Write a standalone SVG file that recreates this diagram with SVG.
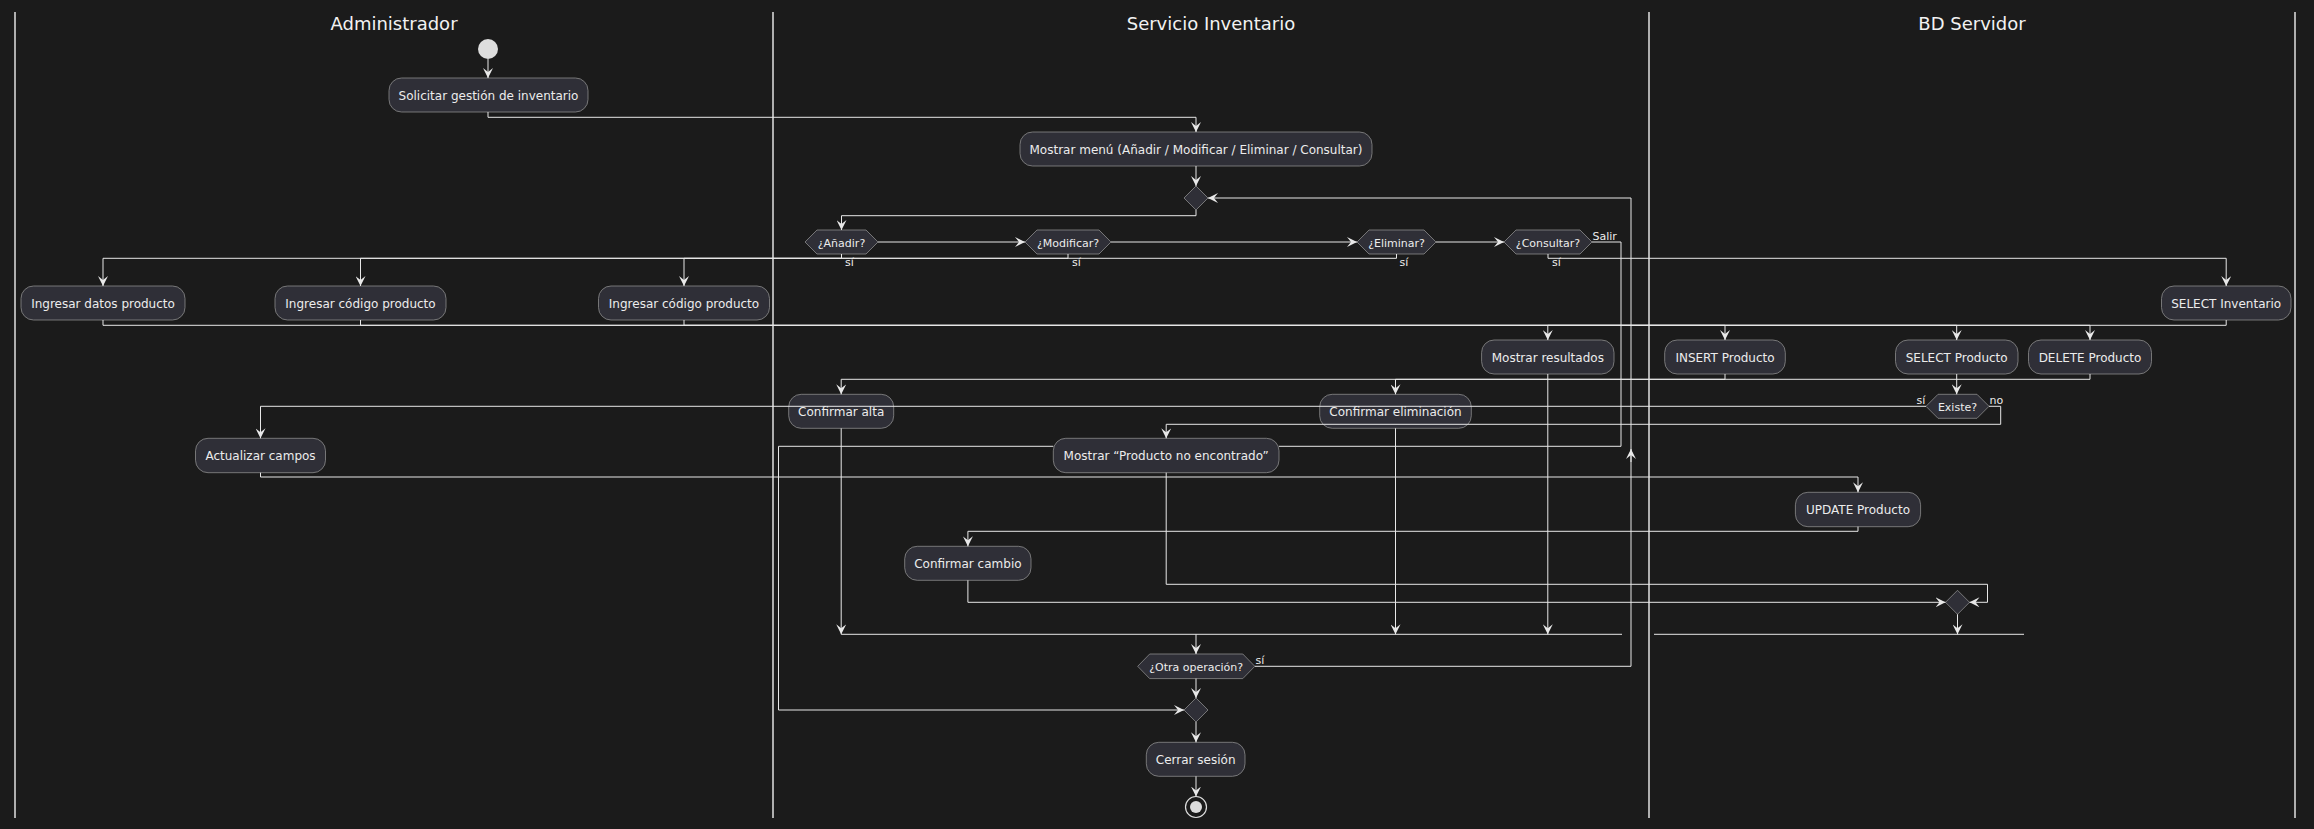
<svg xmlns="http://www.w3.org/2000/svg" width="2314" height="829" viewBox="0 0 2314 829">
<defs>
<style>
.bg{fill:#1b1b1b}
.lane{stroke:#e2e2e2;stroke-width:1.5}
.title{font-family:"DejaVu Sans",sans-serif;font-size:18px;fill:#f2f2f2;text-anchor:middle}
.box{fill:#2f2f37;stroke:#8c8c8c;stroke-width:0.8}
.t{font-family:"DejaVu Sans",sans-serif;font-size:12px;fill:#ececec;text-anchor:middle}
.ht{font-family:"DejaVu Sans",sans-serif;font-size:11px;fill:#ececec;text-anchor:middle}
.el{font-family:"DejaVu Sans",sans-serif;font-size:11px;fill:#ececec}
.conn path{fill:none;stroke:#e8e8e8;stroke-width:1}
.conn path.a{marker-end:url(#ah)}
</style>
<marker id="ah" viewBox="0 0 10 10" refX="10" refY="5" markerWidth="10" markerHeight="10" markerUnits="userSpaceOnUse" orient="auto">
<path d="M0,0 L10,5 L0,10 L4,5 Z" fill="#e8e8e8"/>
</marker>
</defs>
<rect class="bg" x="0" y="0" width="2314" height="829"/>

<g id="lanes">
<line class="lane" x1="15" y1="12" x2="15" y2="818"/>
<line class="lane" x1="773" y1="12" x2="773" y2="818"/>
<line class="lane" x1="1649" y1="12" x2="1649" y2="818"/>
<line class="lane" x1="2295" y1="12" x2="2295" y2="818"/>
<text class="title" x="394" y="29.5">Administrador</text>
<text class="title" x="1211" y="29.5">Servicio Inventario</text>
<text class="title" x="1972" y="29.5">BD Servidor</text>
</g>

<g id="start"><circle cx="488" cy="49" r="10" fill="#dddddd"/></g>
<g id="n_solicitar"><rect class="box" x="389" y="78" width="199" height="34" rx="12.5"/><text class="t" x="488.5" y="99.5">Solicitar gestión de inventario</text></g>
<g id="n_menu"><rect class="box" x="1020" y="132" width="352" height="34" rx="12.5"/><text class="t" x="1196" y="153.5">Mostrar menú (Añadir / Modificar / Eliminar / Consultar)</text></g>
<g id="m_loop"><polygon class="box" points="1196,186 1208,198 1196,210 1184,198"/></g>
<g id="d_anadir"><polygon class="box" points="805,242 817,230 866,230 878,242 866,254 817,254"/><text class="ht" x="841.5" y="246.5">¿Añadir?</text></g>
<g id="d_modificar"><polygon class="box" points="1025,242 1037,230 1099,230 1111,242 1099,254 1037,254"/><text class="ht" x="1068" y="246.5">¿Modificar?</text></g>
<g id="d_eliminar"><polygon class="box" points="1357,242 1369,230 1424,230 1436,242 1424,254 1369,254"/><text class="ht" x="1396.5" y="246.5">¿Eliminar?</text></g>
<g id="d_consultar"><polygon class="box" points="1504,242 1516,230 1580,230 1592,242 1580,254 1516,254"/><text class="ht" x="1548" y="246.5">¿Consultar?</text></g>

<g id="n_ing_datos"><rect class="box" x="21" y="286" width="164" height="34" rx="12.5"/><text class="t" x="103" y="307.5">Ingresar datos producto</text></g>
<g id="n_ing_cod1"><rect class="box" x="275" y="286" width="171" height="34" rx="12.5"/><text class="t" x="360.5" y="307.5">Ingresar código producto</text></g>
<g id="n_ing_cod2"><rect class="box" x="598.5" y="286" width="171" height="34" rx="12.5"/><text class="t" x="684" y="307.5">Ingresar código producto</text></g>
<g id="n_sel_inv"><rect class="box" x="2161.5" y="286" width="129.5" height="34" rx="12.5"/><text class="t" x="2226.2" y="307.5">SELECT Inventario</text></g>

<g id="n_mostrar_res"><rect class="box" x="1481.6" y="340" width="132.4" height="34" rx="12.5"/><text class="t" x="1547.8" y="361.5">Mostrar resultados</text></g>
<g id="n_insert"><rect class="box" x="1664.7" y="340" width="120.6" height="34" rx="12.5"/><text class="t" x="1725" y="361.5">INSERT Producto</text></g>
<g id="n_sel_prod"><rect class="box" x="1895.5" y="340" width="122.5" height="34" rx="12.5"/><text class="t" x="1956.7" y="361.5">SELECT Producto</text></g>
<g id="n_delete"><rect class="box" x="2028.5" y="340" width="123" height="34" rx="12.5"/><text class="t" x="2090" y="361.5">DELETE Producto</text></g>

<g id="n_conf_alta"><rect class="box" x="788.7" y="394.3" width="105" height="34" rx="12.5"/><text class="t" x="841.2" y="415.8">Confirmar alta</text></g>
<g id="n_conf_elim"><rect class="box" x="1319.7" y="394.3" width="151.6" height="34" rx="12.5"/><text class="t" x="1395.5" y="415.8">Confirmar eliminación</text></g>
<g id="d_existe"><polygon class="box" points="1926,406.3 1938,394.3 1977,394.3 1989,406.3 1977,418.3 1938,418.3"/><text class="ht" x="1957.5" y="410.8">Existe?</text></g>

<g id="n_no_encontrado"><rect class="box" x="1053.3" y="438.3" width="225.7" height="34.4" rx="12.5"/><text class="t" x="1166.2" y="460">Mostrar “Producto no encontrado”</text></g>
<g id="n_actualizar"><rect class="box" x="195.5" y="438.3" width="130" height="34.4" rx="12.5"/><text class="t" x="260.5" y="460">Actualizar campos</text></g>
<g id="n_update"><rect class="box" x="1795.4" y="492.3" width="125.2" height="34.4" rx="12.5"/><text class="t" x="1858" y="514">UPDATE Producto</text></g>
<g id="n_conf_cambio"><rect class="box" x="904.7" y="546.3" width="126.3" height="34" rx="12.5"/><text class="t" x="967.9" y="567.8">Confirmar cambio</text></g>
<g id="m_existe"><polygon class="box" points="1957.5,590.3 1969.5,602.3 1957.5,614.3 1945.5,602.3"/></g>

<g id="d_otra"><polygon class="box" points="1137.7,666.3 1149.7,654 1242.8,654 1254.8,666.3 1242.8,678.6 1149.7,678.6"/><text class="ht" x="1196.2" y="670.8">¿Otra operación?</text></g>
<g id="m_fin"><polygon class="box" points="1196,698 1208,710 1196,722 1184,710"/></g>
<g id="n_cerrar"><rect class="box" x="1146.3" y="742.3" width="98.7" height="34" rx="12.5"/><text class="t" x="1195.7" y="763.8">Cerrar sesión</text></g>
<g id="end"><circle cx="1196" cy="807" r="10.5" fill="#1b1b1b" stroke="#dddddd" stroke-width="1.2"/><circle cx="1196" cy="807" r="6" fill="#dddddd"/></g>

<g id="connectors" class="conn">
<path class="a" d="M488,59 V78"/>
<path class="a" d="M488,112 V117.3 H1196 V132"/>
<path class="a" d="M1196,166 V186"/>
<path class="a" d="M1196,210 V215.7 H841.5 V230"/>
<path class="a" d="M878,242 H1025"/>
<path class="a" d="M1111,242 H1357"/>
<path class="a" d="M1436,242 H1504"/>
<path d="M1592,242 H1621 V446.3 H1279"/>
<path class="a" d="M1053.3,446.3 H778.5 V710 H1184"/>
<path class="a" d="M841.5,254 V258.3 H103 V286"/>
<path class="a" d="M1068,254 V258.3 H360.5 V286"/>
<path class="a" d="M1396.5,254 V258.3 H684 V286"/>
<path class="a" d="M1548,254 V258.3 H2226.2 V286"/>
<path class="a" d="M103,320 V325.3 H1725 V340"/>
<path class="a" d="M360.5,320 V325.3 H1956.7 V340"/>
<path class="a" d="M684,320 V325.3 H2090 V340"/>
<path class="a" d="M2226.2,320 V325.3 H1547.8 V340"/>
<path class="a" d="M1725,374 V379.3 H841.2 V394.3"/>
<path class="a" d="M2090,374 V379.3 H1395.5 V394.3"/>
<path class="a" d="M1956.7,374 V394.3"/>
<path class="a" d="M1926,406.3 H260.5 V438.3"/>
<path class="a" d="M1989,406.3 H2000.7 V424.3 H1166.2 V438.3"/>
<path class="a" d="M260.5,472.7 V477 H1858 V492.3"/>
<path class="a" d="M1858,526.7 V531.3 H967.9 V546.3"/>
<path class="a" d="M967.9,580.3 V602.3 H1945.5"/>
<path class="a" d="M1166.2,472.7 V584.3 H1987.5 V602.3 H1969.5"/>
<path class="a" d="M1957.5,614.3 V634.3"/>
<path d="M1654,634.3 H2024"/>
<path d="M841.2,634.3 H1622"/>
<path class="a" d="M841.2,428.3 V634.3"/>
<path class="a" d="M1395.5,428.3 V634.3"/>
<path class="a" d="M1547.8,374 V634.3"/>
<path class="a" d="M1196,634.3 V654"/>
<path class="a" d="M1254.8,666.3 H1631 V198 H1208"/>
<path class="a" d="M1631,462 V449"/>
<path class="a" d="M1196,678.6 V698"/>
<path class="a" d="M1196,722 V742.3"/>
<path class="a" d="M1196,776.3 V796.5"/>
</g>

<g id="edge_labels">
<text class="el" x="845" y="265.5">sí</text>
<text class="el" x="1072" y="265.5">sí</text>
<text class="el" x="1399.5" y="265.5">sí</text>
<text class="el" x="1552" y="265.5">sí</text>
<text class="el" x="1592.5" y="240">Salir</text>
<text class="el" x="1916.5" y="404">sí</text>
<text class="el" x="1989.5" y="404">no</text>
<text class="el" x="1255.5" y="663.5">sí</text>
</g>
</svg>
